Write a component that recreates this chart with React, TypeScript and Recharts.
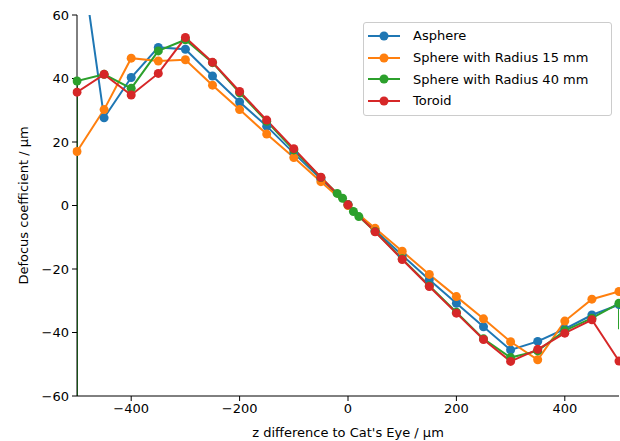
import React from 'react';
import { LineChart, Line, XAxis, YAxis, Legend } from 'recharts';

// x positions (µm) shared by most series
const zSteps = [-500, -450, -400, -350, -300, -250, -200, -150, -100, -50, 0, 50, 100, 150, 200, 250, 300, 350, 400, 450, 500];

const asphere = [88, 27.6, 40.3, 49.8, 49.2, 40.8, 32.6, 25.0, 16.5, 8.3, 0.3, -7.8, -15.7, -23.4, -30.8, -38.2, -45.5, -42.8, -38.9, -34.5, -31.2];
const sphere15 = [17.0, 30.2, 46.4, 45.5, 45.9, 37.9, 30.2, 22.5, 15.1, 7.5, 0, -7.2, -14.4, -21.7, -28.7, -35.7, -42.9, -48.6, -36.4, -29.5, -27.1];
const toroid = [35.7, 41.3, 34.8, 41.6, 52.9, 45.1, 35.9, 26.9, 17.9, 8.9, 0.2, -8.3, -17.0, -25.5, -33.9, -42.2, -49.1, -45.3, -40.2, -36.0, -49.0];

// the 40 mm sphere was sampled more finely around zero
const sphere40Z = [-500, -500, -450, -400, -350, -300, -250, -200, -150, -100, -50, -20, -10, 0, 10, 20, 50, 100, 150, 200, 250, 300, 350, 400, 450, 500];
const sphere40 = [-120, 39.2, 41.3, 36.9, 48.7, 52.2, 45.0, 35.5, 26.5, 17.5, 8.8, 3.8, 2.3, 0.2, -1.9, -3.5, -8.2, -16.8, -25.3, -33.6, -42.0, -47.9, -45.8, -39.4, -35.5, -30.8];
// trailing segment of the 40 mm curve that runs down the right edge
const sphere40TailZ = [500, 500];
const sphere40Tail = [-30.8, -39];

const xTicks = [-400, -200, 0, 200, 400];
const yTicks = [-60, -40, -20, 0, 20, 40, 60];

const FONT = 'DejaVu Sans';

const toPoints = (xs: number[], ys: number[]) => xs.map((x, i) => ({ x, y: ys[i] }));

const series = [
  { name: 'Asphere', color: '#1f77b4', data: toPoints(zSteps, asphere) },
  { name: 'Sphere with Radius 15 mm', color: '#ff7f0e', data: toPoints(zSteps, sphere15) },
  { name: 'Sphere with Radius 40 mm', color: '#2ca02c', data: toPoints(sphere40Z, sphere40) },
  { name: 'Toroid', color: '#d62728', data: toPoints(zSteps, toroid) },
];

const fmt = (v: number) => String(v).replace('-', '\u2212');

function LegendBox() {
  return (
    <div
      style={{
        border: '1px solid #cccccc',
        borderRadius: 3,
        background: 'rgba(255,255,255,0.8)',
        padding: '2px 0 3px 0',
        width: 247,
        fontFamily: FONT,
        fontSize: 13,
        color: '#000',
      }}
    >
      {series.map((s) => (
        <div key={s.name} style={{ display: 'flex', alignItems: 'center', height: 21.7 }}>
          <svg width={46} height={12} style={{ marginLeft: 3 }}>
            <line x1={1} y1={6} x2={33} y2={6} stroke={s.color} strokeWidth={2} />
            <circle cx={17} cy={6} r={4.5} fill={s.color} />
          </svg>
          <span>{s.name}</span>
        </div>
      ))}
    </div>
  );
}

export default function App() {
  return (
    <div style={{ position: 'absolute', left: 0, top: 0, background: '#fff' }}>
      <LineChart width={620} height={441} margin={{ top: 15, right: 1, bottom: 0, left: 0 }}>
        <XAxis
          xAxisId="b"
          type="number"
          dataKey="x"
          domain={[-500, 500]}
          allowDataOverflow
          ticks={xTicks}
          tickFormatter={fmt}
          height={45}
          tickSize={5}
          tickMargin={3}
          stroke="#000"
          tick={{ fill: '#000', fontSize: 13, fontFamily: FONT }}
          label={{ value: "z difference to Cat's Eye / µm", position: 'insideBottom', offset: 4, fill: '#000', fontSize: 13, fontFamily: FONT }}
        />
        <XAxis xAxisId="t" orientation="top" type="number" domain={[-500, 500]} height={0} tick={false} tickLine={false} stroke="#000" />
        <YAxis
          yAxisId="l"
          type="number"
          dataKey="y"
          domain={[-60, 60]}
          allowDataOverflow
          ticks={yTicks}
          tickFormatter={fmt}
          width={77}
          tickSize={5}
          tickMargin={3}
          stroke="#000"
          tick={{ fill: '#000', fontSize: 13, fontFamily: FONT }}
          label={{
            content: (props: any) => {
              const vb = props.viewBox || { y: 15, height: 381 };
              const cy = vb.y + vb.height / 2;
              return (
                <text x={23} y={cy} transform={`rotate(-90, 23, ${cy})`} textAnchor="middle" dominantBaseline="central" fill="#000" fontSize={13} fontFamily={FONT}>
                  Defocus coefficient / µm
                </text>
              );
            },
          }}
        />
        <YAxis yAxisId="r" orientation="right" type="number" domain={[-60, 60]} width={0} tick={false} tickLine={false} stroke="#000" />
        <Legend
          layout="vertical"
          align="center"
          verticalAlign="middle"
          wrapperStyle={{ position: 'absolute', left: 363, top: 22, width: 249 }}
          content={() => <LegendBox />}
        />
        <Line
          xAxisId="b"
          yAxisId="l"
          data={toPoints(sphere40TailZ, sphere40Tail)}
          dataKey="y"
          type="linear"
          stroke="#2ca02c"
          strokeWidth={2}
          dot={false}
          activeDot={false}
          legendType="none"
          isAnimationActive={false}
        />
        {series.map((s) => (
          <Line
            key={s.name}
            xAxisId="b"
            yAxisId="l"
            data={s.data}
            dataKey="y"
            name={s.name}
            type="linear"
            stroke={s.color}
            strokeWidth={2}
            dot={{ r: 4.5, fill: s.color, stroke: s.color, strokeWidth: 0, clipDot: false }}
            activeDot={false}
            isAnimationActive={false}
          />
        ))}
      </LineChart>
    </div>
  );
}
